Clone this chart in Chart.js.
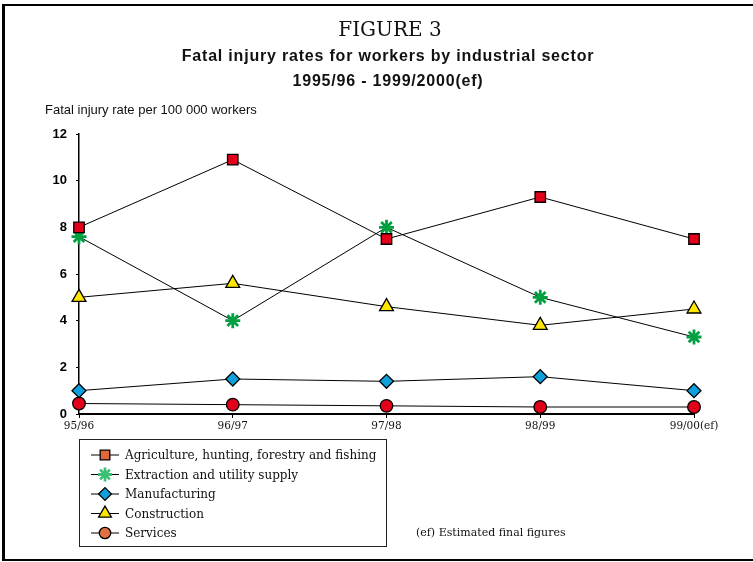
<!DOCTYPE html>
<html>
<head>
<meta charset="utf-8">
<script src="https://cdn.jsdelivr.net/npm/chart.js@4/dist/chart.umd.min.js"></script>
<style>
  body { margin: 0; background: #fff; overflow: hidden; }
  #wrap { position: relative; width: 753px; height: 562px; }
  #myChart { position: absolute; left: 0; top: 0; }
  #frame {
    position: absolute; left: 2px; top: 4px; width: 800px; height: 553px;
    border: 2px solid #000; border-left-width: 3px; pointer-events: none;
  }
</style>
</head>
<body>
<div id="wrap">
  <canvas id="myChart" width="753" height="562"></canvas>
  <div id="frame"></div>
</div>
<script>
// data
var years = ['95/96', '96/97', '97/98', '98/99', '99/00(ef)'];
var agriculture = [8.0, 10.9, 7.5, 9.3, 7.5];
var extraction = [7.6, 4.0, 8.0, 5.0, 3.3];
var manufacturing = [1.0, 1.5, 1.4, 1.6, 1.0];
var construction = [5.0, 5.6, 4.6, 3.8, 4.5];
var services = [0.45, 0.4, 0.35, 0.3, 0.3];
var yTicks = [0, 2, 4, 6, 8, 10, 12];

var seriesNames = [
    'Agriculture, hunting, forestry and fishing',
    'Extraction and utility supply',
    'Manufacturing',
    'Construction',
    'Services'
];

var titleText = 'FIGURE 3';
var subtitleText = ['Fatal injury rates for workers by industrial sector', '1995/96 - 1999/2000(ef)'];
var yAxisText = 'Fatal injury rate per 100 000 workers';
var footnoteText = '(ef) Estimated final figures';

window.onload = function() {
    var sans = '"Liberation Sans", Arial, sans-serif';
    var serif = '"DejaVu Serif", serif';

    // marker looks, chart and legend use slightly different fills (as in the original)
    var markers = [
        { style: 'rect', radius: 7.4, fill: '#e2001a', legendFill: '#e0673a', border: '#000', width: 1.3 },
        { style: 'star', radius: 7.5, fill: '#00a040', legendFill: '#3cc078', border: '#00a040', legendBorder: '#3cc078', width: 2.8 },
        { style: 'rectRot', radius: 7, fill: '#0ea0dc', legendFill: '#0ea0dc', border: '#000', width: 1.3 },
        { style: 'triangle', radius: 8, fill: '#ffe600', legendFill: '#ffe600', border: '#000', width: 1.3 },
        { style: 'circle', radius: 6.3, fill: '#e2001a', legendFill: '#e0703f', border: '#000', width: 1.3 }
    ];
    var values = [agriculture, extraction, manufacturing, construction, services];

    var datasets = values.map(function(v, i) {
        var m = markers[i];
        return {
            label: seriesNames[i],
            data: v,
            borderColor: '#000',
            borderWidth: 1,
            pointStyle: m.style,
            pointRadius: m.radius,
            pointBackgroundColor: m.fill,
            pointBorderColor: m.border,
            pointBorderWidth: m.width,
            tension: 0,
            fill: false,
            clip: false
        };
    });

    // headings, horizontal axis caption, legend box and footnote
    var decorations = {
        id: 'decorations',
        afterDraw: function(chart) {
            var ctx = chart.ctx;
            var area = chart.chartArea;
            ctx.save();
            ctx.fillStyle = '#111';
            ctx.textBaseline = 'middle';

            ctx.textAlign = 'center';
            ctx.font = '20px ' + serif;
            ctx.fillText(titleText, 390, 31);

            ctx.font = 'bold 16px ' + sans;
            ctx.letterSpacing = '0.8px';
            subtitleText.forEach(function(line, i) {
                ctx.fillText(line, 388, 57 + i * 25);
            });
            ctx.letterSpacing = '0px';

            ctx.textAlign = 'left';
            ctx.font = '13px ' + sans;
            ctx.fillText(yAxisText, 45, area.top - 24);

            // legend
            var boxLeft = area.left, boxTop = 439, boxW = 307, boxH = 107;
            ctx.strokeStyle = '#222';
            ctx.lineWidth = 1;
            ctx.strokeRect(boxLeft + 0.5, boxTop + 0.5, boxW, boxH);

            ctx.font = '12px ' + serif;
            seriesNames.forEach(function(name, i) {
                var m = markers[i];
                var y = 455 + i * 19.5;
                ctx.strokeStyle = '#000';
                ctx.lineWidth = 1;
                ctx.beginPath();
                ctx.moveTo(91, y);
                ctx.lineTo(119, y);
                ctx.stroke();
                ctx.fillStyle = m.legendFill;
                ctx.strokeStyle = m.legendBorder || m.border;
                ctx.lineWidth = m.width;
                Chart.helpers.drawPoint(ctx, {
                    pointStyle: m.style, radius: m.radius - 0.6, rotation: 0, borderWidth: m.width
                }, 105, y);
                ctx.fillStyle = '#111';
                ctx.fillText(name, 125, y + 1);
            });

            ctx.font = '11px ' + serif;
            ctx.fillText(footnoteText, 416, 533);
            ctx.restore();
        }
    };

    var ctx = document.getElementById('myChart').getContext('2d');
    var myChart = new Chart(ctx, {
        type: 'line',
        data: {
            labels: years,
            datasets: datasets
        },
        options: {
            responsive: false,
            animation: false,
            devicePixelRatio: 1,
            layout: {
                padding: { top: 134, right: 59, left: 0, bottom: 0 }
            },
            plugins: {
                legend: { display: false },
                tooltip: { enabled: false }
            },
            scales: {
                x: {
                    type: 'category',
                    offset: false,
                    afterFit: function(scale) { scale.height = 148; },
                    grid: { drawOnChartArea: false, drawTicks: true, tickLength: 4, color: '#000' },
                    border: { color: '#000', width: 2 },
                    ticks: {
                        color: '#111',
                        padding: 2,
                        maxRotation: 0,
                        autoSkip: false,
                        font: { family: serif, size: 10.5 }
                    }
                },
                y: {
                    min: yTicks[0],
                    max: yTicks[yTicks.length - 1],
                    afterFit: function(scale) { scale.width = 79; },
                    afterBuildTicks: function(scale) {
                        scale.ticks = yTicks.map(function(v) { return { value: v }; });
                    },
                    grid: { drawOnChartArea: false, drawTicks: true, tickLength: 3, color: '#000' },
                    border: { color: '#000', width: 1.5 },
                    ticks: {
                        color: '#000',
                        padding: 9,
                        font: { family: sans, size: 13, weight: 'bold' }
                    }
                }
            }
        },
        plugins: [decorations]
    });
};
</script>
</body>
</html>
